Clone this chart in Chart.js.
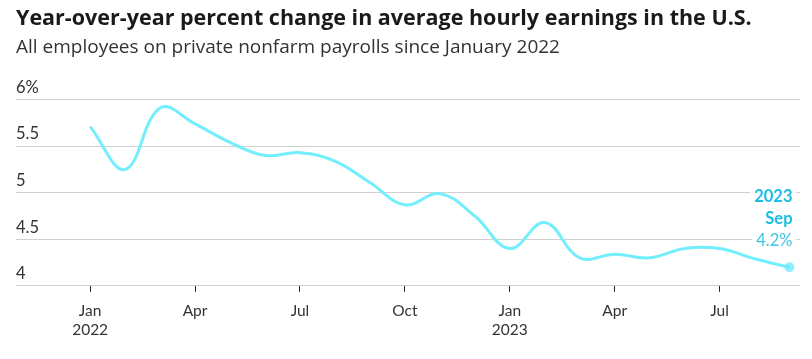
<!DOCTYPE html>
<html>
<head>
<meta charset="utf-8">
<script src="https://cdn.jsdelivr.net/npm/chart.js@4.4.1/dist/chart.umd.min.js"></script>
<style>
  html, body { margin: 0; padding: 0; background: #fff; }
  #wrap { width: 812px; height: 359px; }
</style>
</head>
<body>
<div id="wrap"><canvas id="ahe"></canvas></div>
<script>
// months since Jan 2022 (index 0) to Sep 2023 (index 20)
var months = ['Jan', 'Feb', 'Mar', 'Apr', 'May', 'Jun', 'Jul', 'Aug', 'Sep', 'Oct', 'Nov', 'Dec',
              'Jan', 'Feb', 'Mar', 'Apr', 'May', 'Jun', 'Jul', 'Aug', 'Sep'];
var years = [2022, 2022, 2022, 2022, 2022, 2022, 2022, 2022, 2022, 2022, 2022, 2022,
             2023, 2023, 2023, 2023, 2023, 2023, 2023, 2023, 2023];
var yoyChange = [5.71, 5.25, 5.91, 5.74, 5.54, 5.40, 5.43, 5.34, 5.11, 4.87, 4.99, 4.75,
                 4.40, 4.68, 4.30, 4.34, 4.30, 4.40, 4.40, 4.29, 4.2];
var xTickIdx = [0, 3, 6, 9, 12, 15, 18];
var yTicks = [4, 4.5, 5, 5.5, 6];

var FONT = 'Lato, "Open Sans", sans-serif';
var HEAD = '"Open Sans", Lato, sans-serif';

var points = yoyChange.map(function (v, i) { return { x: i, y: v }; });
var last = points.length - 1;

var endLabel = {
    id: 'endLabel',
    afterDatasetsDraw: function (chart) {
        var ctx = chart.ctx;
        var p = chart.getDatasetMeta(0).data[last];
        var right = p.x + 3;
        var lines = [
            { t: String(years[last]), f: 'bold 16.5px ' + FONT, c: '#1bbfe2', dy: -71 },
            { t: months[last], f: 'bold 16.5px ' + FONT, c: '#1bbfe2', dy: -49 },
            { t: yoyChange[last].toFixed(1) + '%', f: '16.5px ' + FONT, c: '#3cc6e6', dy: -27 }
        ];
        ctx.save();
        ctx.textAlign = 'right';
        ctx.textBaseline = 'middle';
        lines.forEach(function (l) {
            ctx.font = l.f;
            var w = ctx.measureText(l.t).width;
            ctx.fillStyle = '#fff';
            ctx.fillRect(right - w - 4, p.y + l.dy - 9, w + 8, 18);
            ctx.fillStyle = l.c;
            ctx.fillText(l.t, right, p.y + l.dy);
        });
        ctx.restore();
    }
};

new Chart(document.getElementById('ahe'), {
    type: 'line',
    data: {
        datasets: [{
            data: points,
            borderColor: '#72eefd',
            borderWidth: 3,
            tension: 0.4,
            fill: false,
            pointRadius: function (c) { return c.dataIndex === last ? 5 : 0; },
            pointBackgroundColor: 'rgba(114, 232, 250, 0.75)',
            pointBorderWidth: 0,
            clip: false
        }]
    },
    options: {
        responsive: true,
        maintainAspectRatio: false,
        animation: false,
        layout: { padding: { left: 16, right: 12, bottom: 10 } },
        plugins: {
            legend: { display: false },
            tooltip: { enabled: false },
            title: {
                display: true,
                text: 'Year-over-year percent change in average hourly earnings in the U.S.',
                align: 'start',
                color: '#1a1a1a',
                font: { family: HEAD, size: 21.5, weight: 'bold' },
                padding: { top: 6, bottom: 4 }
            },
            subtitle: {
                display: true,
                text: 'All employees on private nonfarm payrolls since January 2022',
                align: 'start',
                color: '#333',
                font: { family: HEAD, size: 19 },
                padding: { top: 0, bottom: 41 }
            }
        },
        scales: {
            x: {
                type: 'linear',
                min: -2.12,
                max: 20.3,
                afterBuildTicks: function (axis) {
                    axis.ticks = xTickIdx.map(function (i) { return { value: i }; });
                },
                border: { display: false },
                grid: { drawOnChartArea: false, drawTicks: true, tickLength: 6, color: '#222' },
                ticks: {
                    color: '#333',
                    font: { family: FONT, size: 15.5 },
                    padding: 10,
                    maxRotation: 0,
                    callback: function (v) {
                        return months[v] === 'Jan' ? [months[v], String(years[v])] : months[v];
                    }
                }
            },
            y: {
                min: 4,
                max: 6,
                afterBuildTicks: function (axis) {
                    axis.ticks = yTicks.map(function (v) { return { value: v }; });
                },
                border: { display: false },
                grid: { color: '#d0d0d0', drawTicks: false },
                ticks: {
                    mirror: true,
                    padding: 0,
                    labelOffset: -12,
                    color: '#333',
                    font: { family: FONT, size: 16.5 },
                    callback: function (v) { return v === 6 ? '6%' : String(v); }
                }
            }
        }
    },
    plugins: [endLabel]
});
</script>
</body>
</html>
